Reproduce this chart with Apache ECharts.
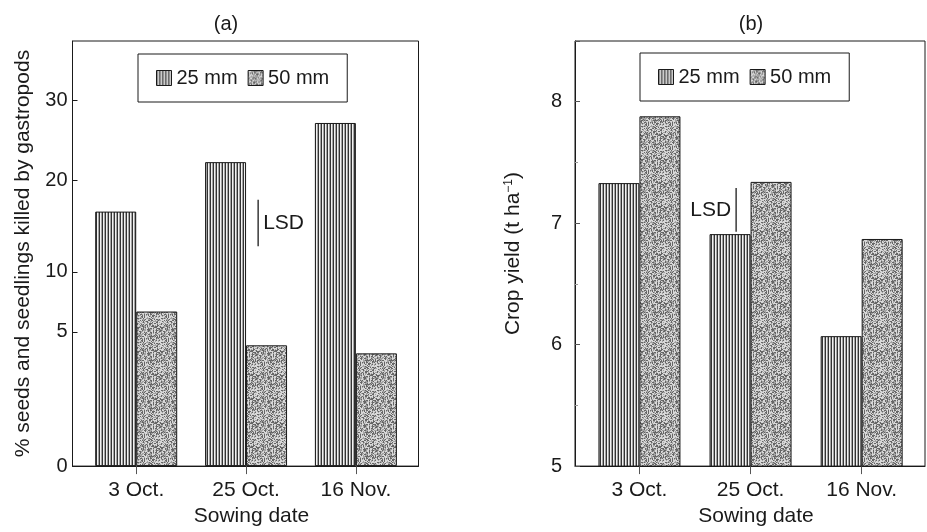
<!DOCTYPE html>
<html lang="en">
<head>
    <meta charset="UTF-8">
    <title>sowing date: gastropod damage and crop yield</title>
    <script src="https://cdn.jsdelivr.net/npm/echarts@6/dist/echarts.min.js"></script>
    <style>
        html, body {
            margin: 0;
            padding: 0;
            background: #fff;
        }
        #chart {
            width: 927px;
            height: 532px;
        }
    </style>
</head>
<body>
<div id="chart"></div>
<script type="text/javascript">
    // sowing dates, placed at 1..3 on a value axis
    let dates = ['3 Oct.', '25 Oct.', '16 Nov.'];
    let datePos = [1, 2, 3];

    // (a) % seeds and seedlings killed by gastropods
    let killed25 = [16.6, 22.3, 27.2];
    let killed50 = [6.7, 4.5, 4.2];
    let killedTicks = [0, 5, 10, 20, 30];
    // the printed axis is stretched unevenly, these knots map value -> axis units
    let killedKnots = [0, 134.4, 194.4, 286, 366];
    let killedTop = 425.7;
    let lsdA = [2.11, 12.8, 17.9];   // x, from, to

    // (b) crop yield (t/ha)
    let yield25 = [7.33, 6.91, 6.07];
    let yield50 = [7.88, 7.34, 6.87];
    let lsdB = [1.87, 6.93, 7.29];

    const FONT = "'Liberation Sans', Arial, sans-serif";
    const INK = '#1a1a1a';

    function toKilled(v) {
        for (let i = 1; i < killedTicks.length; i++) {
            if (v <= killedTicks[i] || i === killedTicks.length - 1) {
                let t = (v - killedTicks[i - 1]) / (killedTicks[i] - killedTicks[i - 1]);
                return killedKnots[i - 1] + t * (killedKnots[i] - killedKnots[i - 1]);
            }
        }
    }

    function killedLabel(u) {
        let best = 0;
        killedKnots.forEach((k, i) => {
            if (Math.abs(k - u) < Math.abs(killedKnots[best] - u)) best = i;
        });
        return String(killedTicks[best]);
    }

    function pattern(c) {
        return {image: c, repeat: 'repeat'};
    }

    // vertical hatching for 25 mm
    function stripeTile() {
        let c = document.createElement('canvas');
        c.width = 3;
        c.height = 1;
        let g = c.getContext('2d');
        ['#333333', '#f2f2f2', '#a4a4a4'].forEach((col, i) => {
            g.fillStyle = col;
            g.fillRect(i, 0, 1, 1);
        });
        return c;
    }

    // stipple for 50 mm (fixed hash, so the texture is the same every run)
    function stippleTile() {
        let n = 24;
        let c = document.createElement('canvas');
        c.width = n;
        c.height = n;
        let g = c.getContext('2d');
        for (let i = 0; i < n * n; i++) {
            let h = Math.imul(i + 17, 0x9e3779b1);
            h ^= h >>> 15;
            h = Math.imul(h, 0x85ebca6b);
            h ^= h >>> 13;
            let r = (h >>> 0) / 4294967296;
            g.fillStyle = r < 0.33 ? '#666666' : (r < 0.62 ? '#a2a2a2' : '#d8d8d8');
            g.fillRect(i % n, Math.floor(i / n), 1, 1);
        }
        return c;
    }

    let stripes = pattern(stripeTile());
    let stipple = pattern(stippleTile());

    function xAxis(grid) {
        return {
            type: 'value', gridIndex: grid, min: 0.42, max: 3.57,
            splitLine: {show: false},
            axisLine: {show: true, lineStyle: {color: INK}},
            axisTick: {customValues: datePos, length: 8, lineStyle: {color: '#555'}},
            axisLabel: {
                customValues: datePos, formatter: v => dates[Math.round(v) - 1],
                fontSize: 21, margin: 14, color: INK, fontFamily: FONT
            },
            name: 'Sowing date', nameLocation: 'middle', nameGap: 39,
            nameTextStyle: {fontSize: 21, color: INK, fontFamily: FONT, padding: [0, 0, 0, 12]}
        };
    }

    function bars(grid, name, vals, fill) {
        return {
            type: 'bar', name: name, xAxisIndex: grid, yAxisIndex: grid,
            barWidth: 41, barGap: '0%',
            itemStyle: {color: fill, borderColor: INK, borderWidth: 1},
            data: datePos.map((x, i) => [x, vals[i]])
        };
    }

    function lsd(grid, item, side) {
        return {
            type: 'custom', xAxisIndex: grid, yAxisIndex: grid,
            data: [item], encode: {x: 0, y: [1, 2]}, z: 5,
            renderItem: function (params, api) {
                let lo = api.coord([api.value(0), api.value(1)]);
                let hi = api.coord([api.value(0), api.value(2)]);
                return {
                    type: 'group', children: [
                        {
                            type: 'line',
                            shape: {x1: lo[0], y1: lo[1], x2: hi[0], y2: hi[1]},
                            style: {stroke: INK, lineWidth: 1.3}
                        },
                        {
                            type: 'text', x: lo[0] + side * 5, y: (lo[1] + hi[1]) / 2,
                            style: {
                                text: 'LSD', fontSize: 21, fontFamily: FONT, fill: INK,
                                align: side > 0 ? 'left' : 'right', verticalAlign: 'middle'
                            }
                        }
                    ]
                };
            }
        };
    }

    let legendStyle = {
        orient: 'horizontal', icon: 'rect', itemWidth: 15, itemHeight: 15, itemGap: 10,
        borderColor: INK, borderWidth: 1, padding: [14, 18],
        textStyle: {fontSize: 20, color: INK, fontFamily: FONT},
        itemStyle: {borderColor: INK, borderWidth: 1},
        selectedMode: false, data: ['25 mm', '50 mm']
    };

    let chart = echarts.init(document.getElementById('chart'));
    chart.setOption({
        animation: false,
        textStyle: {fontFamily: FONT},
        graphic: [
            {type: 'text', x: 226, y: 24, style: {text: '(a)', fontSize: 20, fontFamily: FONT, fill: INK, align: 'center', verticalAlign: 'middle'}},
            {type: 'text', x: 751, y: 24, style: {text: '(b)', fontSize: 20, fontFamily: FONT, fill: INK, align: 'center', verticalAlign: 'middle'}}
        ],
        legend: [
            Object.assign({left: 138, top: 54}, legendStyle),
            Object.assign({left: 640, top: 53}, legendStyle)
        ],
        grid: [
            {left: 72.5, top: 41, width: 346, height: 426, show: true, borderColor: INK, borderWidth: 1},
            {left: 575, top: 41, width: 350, height: 426, show: true, borderColor: INK, borderWidth: 1}
        ],
        xAxis: [xAxis(0), xAxis(1)],
        yAxis: [
            {
                type: 'value', gridIndex: 0, min: 0, max: killedTop,
                splitLine: {show: false},
                axisLine: {show: true, lineStyle: {color: INK}},
                axisTick: {inside: true, length: 5, customValues: killedTicks.map(toKilled), lineStyle: {color: INK}},
                axisLabel: {
                    customValues: killedTicks.map(toKilled), formatter: killedLabel,
                    fontSize: 20, margin: 5, color: INK, fontFamily: FONT
                },
                name: '% seeds and seedlings killed by gastropods', nameLocation: 'middle', nameGap: 39,
                nameTextStyle: {fontSize: 21, color: INK, fontFamily: FONT}
            },
            {
                type: 'value', gridIndex: 1, min: 5, max: 8.5, interval: 1,
                splitLine: {show: false},
                axisLine: {show: true, lineStyle: {color: INK}},
                axisTick: {inside: true, length: 5, lineStyle: {color: '#555'}},
                minorTick: {show: true, splitNumber: 2, length: 3, lineStyle: {color: '#999'}},
                axisLabel: {fontSize: 20, margin: 13, color: INK, fontFamily: FONT, showMaxLabel: false},
                name: 'Crop yield (t ha{sup|−1})', nameLocation: 'middle', nameGap: 51,
                nameTextStyle: {
                    fontSize: 21, color: INK, fontFamily: FONT,
                    rich: {sup: {fontSize: 12, verticalAlign: 'top', lineHeight: 21, fontFamily: FONT, color: INK}}
                }
            }
        ],
        series: [
            bars(0, '25 mm', killed25.map(toKilled), stripes),
            bars(0, '50 mm', killed50.map(toKilled), stipple),
            bars(1, '25 mm', yield25, stripes),
            bars(1, '50 mm', yield50, stipple),
            lsd(0, [lsdA[0], toKilled(lsdA[1]), toKilled(lsdA[2])], 1),
            lsd(1, lsdB, -1)
        ]
    });
</script>
</body>
</html>
